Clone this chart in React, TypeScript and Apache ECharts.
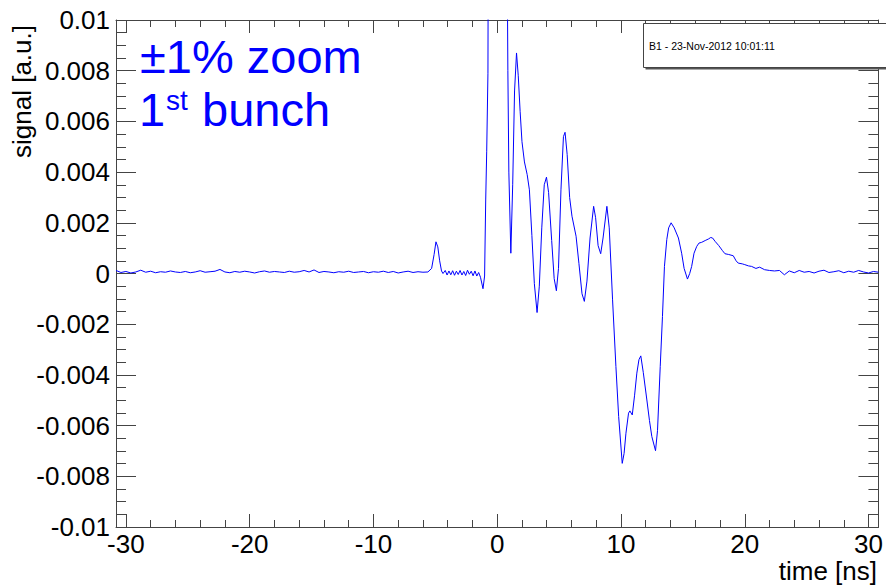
import React, { useEffect, useRef } from "react";
import * as echarts from "echarts";

// signal values are given in units of 1e-4 a.u.
const SIGNAL_UNIT = 1e-4;

const timeBaselineLeft = [
  -30.8, -30.4, -30.0, -29.6, -29.2, -28.8, -28.4, -28.0, -27.6, -27.2,
  -26.8, -26.4, -26.0, -25.6, -25.2, -24.8, -24.4, -24.0, -23.6, -23.2,
  -22.8, -22.4, -22.0, -21.6, -21.2, -20.8, -20.4, -20.0, -19.6, -19.2,
  -18.8, -18.4, -18.0, -17.6, -17.2, -16.8, -16.4, -16.0, -15.6, -15.2,
  -14.8, -14.4, -14.0, -13.6, -13.2, -12.8, -12.4, -12.0, -11.6, -11.2,
  -10.8, -10.4, -10.0, -9.6, -9.2, -8.8, -8.4, -8.0, -7.6, -7.2,
  -6.8, -6.4, -6.0, -5.6,
];
const signalBaselineLeft = [
  1.2, 0.4, 0.8, 0.2, 0.6, 1.3, 0.5, 0.9, 0.3, 0.7,
  0.5, 1.0, 0.6, 0.4, 0.8, 0.3, 0.6, 1.1, 0.5, 0.7,
  0.9, 1.6, 0.6, 0.3, 0.8, 0.5, 0.9, 0.6, 0.2, 0.7,
  1.0, 0.5, 0.8, 0.6, 0.4, 0.9, 0.5, 0.7, 1.2, 0.6,
  1.4, 0.4, 0.8, 0.6, 0.3, 0.7, 0.5, 0.9, 0.4, 0.6,
  0.8, 0.3, 0.7, 0.5, 0.9, 0.4, 0.8, 0.2, 0.6, 0.9,
  0.4, 0.7, 0.5, 0.6,
];

const timePrecursor = [-5.3, -5.1, -4.95, -4.8, -4.65, -4.5, -4.38];
const signalPrecursor = [2.0, 7.5, 12.5, 10.5, 5.0, 1.0, 0.0];

const timeRipple = [
  -4.2, -4.05, -3.9, -3.75, -3.6, -3.45, -3.3, -3.15, -3.0, -2.85,
  -2.7, -2.55, -2.4, -2.25, -2.1, -1.95, -1.8, -1.65, -1.5, -1.35, -1.15,
];
const signalRipple = [
  1.2, -0.6, 1.0, -0.5, 1.1, -0.7, 0.9, -0.4, 1.2, -0.6,
  0.8, -0.8, 1.3, -0.3, 0.9, -0.9, 1.0, -1.0, 0.4, -1.5, -6.0,
];

const timePulse = [
  -1.02, -0.93, -0.85, -0.75, -0.6, -0.3, 0.0, 0.3, 0.6, 0.86,
  0.94, 1.1, 1.25, 1.4, 1.56, 1.7, 1.85, 2.0, 2.2, 2.42,
  2.6, 2.8, 3.0, 3.22, 3.4, 3.6, 3.8, 3.98, 4.15, 4.4,
  4.6, 4.78, 4.95, 5.15, 5.35, 5.48, 5.65, 5.85, 6.04, 6.37,
  6.6, 6.85, 7.04, 7.25, 7.5, 7.79, 7.95, 8.15, 8.36, 8.55,
  8.86, 9.05, 9.32, 9.59, 9.81, 10.1, 10.25, 10.4, 10.61, 10.72,
  10.91, 11.1, 11.28, 11.45, 11.6, 11.8, 12.09, 12.3, 12.49, 12.79,
  12.95, 13.17, 13.35, 13.51, 13.7, 13.85, 14.05, 14.3, 14.64, 14.9,
  15.1, 15.37, 15.55, 15.71, 15.9, 16.12, 16.3, 16.52, 16.8, 17.06,
  17.25, 17.4, 17.6, 17.9, 18.2, 18.4, 18.7, 19.07, 19.3, 19.47,
  19.8, 20.0, 20.3, 20.55, 20.9, 21.2, 21.6, 22.0, 22.4, 22.8, 23.2,
];
const signalPulse = [
  -1, 29, 48, 79, 400, 5000, 10000, 5000, 300, 80,
  40, 8, 35, 72, 87, 78, 64, 52, 44, 39,
  33, 15, -4, -15.4, -5, 18, 35, 38, 32, 13,
  -2, -6.8, 2, 33, 54, 55.7, 47, 30, 22.6, 14.7,
  4, -8, -11, -3, 14, 26.5, 22, 11, 7.8, 14,
  26.5, 18, -10.4, -36.7, -56.4, -74.9, -71, -63, -55.1, -54.2,
  -55.8, -48, -39.3, -34, -32.5, -39, -49.9, -58, -64.3, -69.9,
  -62, -36.7, -17, 2.8, 13.4, 18, 20, 18, 14, 8,
  2, -2.2, 0, 2.8, 8, 10.7, 12, 12.3, 13, 13.6,
  14.2, 14, 12.7, 11, 9, 7.8, 7.5, 7, 5, 4.1,
  3.8, 3.5, 3, 2.8, 2, 2.5, 1.5, 1.2, 1, 1.2, -0.5,
];

const timeBaselineRight = [
  23.6, 24.0, 24.4, 24.8, 25.2, 25.6, 26.0, 26.4, 26.8, 27.2,
  27.6, 28.0, 28.4, 28.8, 29.2, 29.6, 30.0, 30.4, 30.8,
];
const signalBaselineRight = [
  1.0, 0.3, 1.2, 0.5, 0.8, 0.2, 0.9, 1.3, 0.4, 0.7,
  1.1, 0.3, 0.9, 0.5, 1.2, 0.6, 0.2, 0.8, 0.5,
];

const xMajorTicks = [-30, -20, -10, 0, 10, 20, 30];
const yMajorTicks = [-0.01, -0.008, -0.006, -0.004, -0.002, 0, 0.002, 0.004, 0.006, 0.008, 0.01];

const X_MIN = -30.8;
const X_MAX = 30.8;
const Y_MIN = -0.01;
const Y_MAX = 0.01;

const FONT = "'Liberation Sans', Arial, Helvetica, sans-serif";
const FRAME = "#444";
const BLUE = "#0000ff";

function buildMinor(): { x: number[]; y: number[] } {
  const x: number[] = [];
  for (let i = -15; i <= 15; i++) {
    const v = i * 2;
    if (v % 10 !== 0) x.push(v);
  }
  const y: number[] = [];
  for (let i = -20; i <= 20; i++) {
    if (i % 4 !== 0) y.push(+(i * 0.0005).toFixed(4));
  }
  return { x, y };
}

function buildData(): number[][] {
  const segs: [number[], number[]][] = [
    [timeBaselineLeft, signalBaselineLeft],
    [timePrecursor, signalPrecursor],
    [timeRipple, signalRipple],
    [timePulse, signalPulse],
    [timeBaselineRight, signalBaselineRight],
  ];
  const out: number[][] = [];
  segs.forEach(([ts, vs]) => {
    ts.forEach((t, i) => out.push([t, vs[i] * SIGNAL_UNIT]));
  });
  return out;
}

export default function App() {
  const ref = useRef<HTMLDivElement>(null);

  useEffect(() => {
    if (!ref.current) return;
    const chart = echarts.init(ref.current, null, { renderer: "svg" });
    const minor = buildMinor();
    const lineStyle = { color: FRAME, width: 1 };

    const xBase = {
      type: "value",
      min: X_MIN,
      max: X_MAX,
      splitLine: { show: false },
      axisLabel: { show: false },
      axisLine: { show: false, onZero: false, lineStyle },
    };
    const yBase = {
      type: "value",
      min: Y_MIN,
      max: Y_MAX,
      splitLine: { show: false },
      axisLabel: { show: false },
      axisLine: { show: false, onZero: false, lineStyle },
    };

    chart.setOption({
      animation: false,
      backgroundColor: "#ffffff",
      grid: { left: 116, right: 6, top: 20, bottom: 60, containLabel: false },
      xAxis: [
        {
          ...xBase,
          position: "bottom",
          axisLine: { show: true, onZero: false, lineStyle },
          axisTick: { show: true, inside: true, length: 13, customValues: xMajorTicks, lineStyle },
          axisLabel: {
            show: true,
            customValues: xMajorTicks,
            fontSize: 26,
            fontFamily: FONT,
            color: "#000",
            margin: 4,
            formatter: (v: number) => String(Math.round(v)),
          },
        },
        {
          ...xBase,
          position: "bottom",
          axisTick: { show: true, inside: true, length: 7, customValues: minor.x, lineStyle },
        },
        {
          ...xBase,
          position: "top",
          axisLine: { show: true, onZero: false, lineStyle },
          axisTick: { show: true, inside: true, length: 13, customValues: xMajorTicks, lineStyle },
        },
        {
          ...xBase,
          position: "top",
          axisTick: { show: true, inside: true, length: 7, customValues: minor.x, lineStyle },
        },
      ],
      yAxis: [
        {
          ...yBase,
          position: "left",
          axisLine: { show: true, onZero: false, lineStyle },
          axisTick: { show: true, inside: true, length: 20, customValues: yMajorTicks, lineStyle },
          axisLabel: {
            show: true,
            customValues: yMajorTicks,
            fontSize: 26,
            fontFamily: FONT,
            color: "#000",
            margin: 6,
            formatter: (v: number) => String(Number(v.toFixed(4))),
          },
        },
        {
          ...yBase,
          position: "left",
          axisTick: { show: true, inside: true, length: 10, customValues: minor.y, lineStyle },
        },
        {
          ...yBase,
          position: "right",
          axisLine: { show: true, onZero: false, lineStyle },
          axisTick: { show: true, inside: true, length: 20, customValues: yMajorTicks, lineStyle },
        },
        {
          ...yBase,
          position: "right",
          axisTick: { show: true, inside: true, length: 10, customValues: minor.y, lineStyle },
        },
      ],
      series: [
        {
          type: "line",
          xAxisIndex: 0,
          yAxisIndex: 0,
          data: buildData(),
          showSymbol: false,
          symbol: "none",
          clip: true,
          lineStyle: { color: BLUE, width: 1 },
          itemStyle: { color: BLUE },
        },
      ],
      graphic: [
        {
          type: "rect",
          z: 100,
          shape: { x: 645.5, y: 25.5, width: 260, height: 44 },
          style: { fill: "#555" },
        },
        {
          type: "rect",
          z: 101,
          shape: { x: 643.5, y: 23.5, width: 260, height: 44 },
          style: { fill: "#fff", stroke: FRAME, lineWidth: 1 },
        },
        {
          type: "text",
          z: 102,
          x: 649,
          y: 45.5,
          style: {
            text: "B1 - 23-Nov-2012 10:01:11",
            fontSize: 10.5,
            fontFamily: FONT,
            fill: "#000",
            verticalAlign: "middle",
            align: "left",
          },
        },
        {
          type: "text",
          z: 102,
          x: 140,
          y: 56.7,
          style: { text: "±1% zoom", fontSize: 47, fontFamily: FONT, fill: BLUE, verticalAlign: "middle", align: "left" },
        },
        {
          type: "text",
          z: 102,
          x: 139,
          y: 109.2,
          style: { text: "1", fontSize: 47, fontFamily: FONT, fill: BLUE, verticalAlign: "middle", align: "left" },
        },
        {
          type: "text",
          z: 102,
          x: 166,
          y: 100.3,
          style: { text: "st", fontSize: 28, fontFamily: FONT, fill: BLUE, verticalAlign: "middle", align: "left" },
        },
        {
          type: "text",
          z: 102,
          x: 202,
          y: 109.2,
          style: { text: "bunch", fontSize: 47, fontFamily: FONT, fill: BLUE, verticalAlign: "middle", align: "left" },
        },
        {
          type: "text",
          z: 102,
          x: 22,
          y: 25,
          rotation: Math.PI / 2,
          style: { text: "signal [a.u.]", fontSize: 26, fontFamily: FONT, fill: "#000", verticalAlign: "middle", align: "right" },
        },
        {
          type: "text",
          z: 102,
          x: 877,
          y: 571,
          style: { text: "time [ns]", fontSize: 26, fontFamily: FONT, fill: "#000", verticalAlign: "middle", align: "right" },
        },
      ],
    });

    return () => {
      chart.dispose();
    };
  }, []);

  return (
    <div
      ref={ref}
      style={{ position: "absolute", left: 0, top: 0, width: 886, height: 587 }}
    />
  );
}
